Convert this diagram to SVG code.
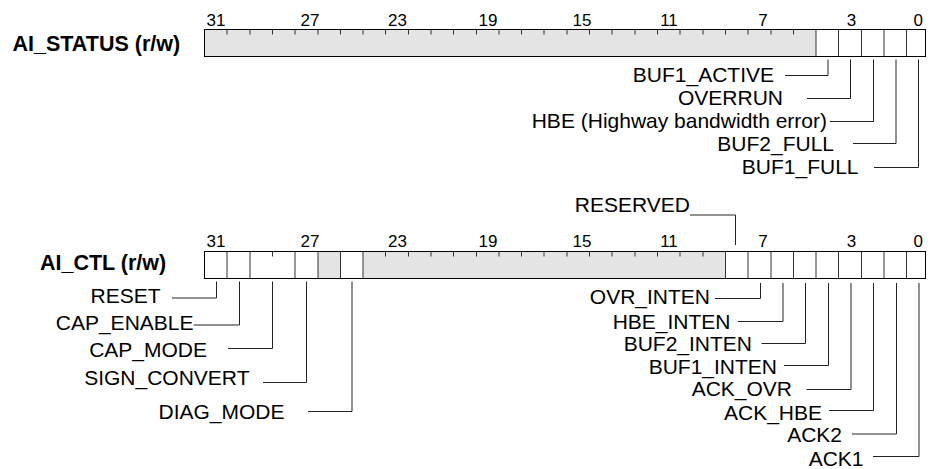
<svg xmlns="http://www.w3.org/2000/svg" width="931" height="469" viewBox="0 0 931 469">
<style>
.lbl{font-family:"Liberation Sans",Arial,sans-serif;font-size:21px;fill:#000}
.ttl{font-family:"Liberation Sans",Arial,sans-serif;font-size:21.5px;font-weight:bold;fill:#000}
.num{font-family:"Liberation Sans",Arial,sans-serif;font-size:17px;fill:#000;text-anchor:middle}
.end{text-anchor:end}
.box{fill:#fff;stroke:#000;stroke-width:1}
.res{fill:#e4e4e4;stroke:none}
.div{stroke:#333;stroke-width:1;fill:none}
.tick{stroke:#333;stroke-width:1;fill:none}
.con{stroke:#222;stroke-width:1;fill:none}
</style>

<g id="ai_status">
  <text class="ttl" x="12.5" y="50.5">AI_STATUS (r/w)</text>
  <rect class="box" x="204.5" y="29.5" width="721" height="27"/>
  <rect class="res" x="205" y="30" width="611" height="26"/>
  <path class="tick" d="M227 29.5V34.5M250 29.5V34.5M272.5 29.5V34.5M295 29.5V34.5M318 29.5V34.5M340.5 29.5V34.5M363 29.5V34.5M385.5 29.5V34.5M408.5 29.5V34.5M431 29.5V34.5M453.5 29.5V34.5M476.5 29.5V34.5M499 29.5V34.5M521.5 29.5V34.5M544 29.5V34.5M567 29.5V34.5M589.5 29.5V34.5M612 29.5V34.5M635 29.5V34.5M657.5 29.5V34.5M680 29.5V34.5M703 29.5V34.5M725.5 29.5V34.5M748 29.5V34.5M771 29.5V34.5M793.5 29.5V34.5"/>
  <path class="div" d="M816 29.5V56.5M838.5 29.5V56.5M861.5 29.5V56.5M884 29.5V56.5M906.5 29.5V56.5"/>
  <g class="num">
    <text x="216" y="25.5">31</text>
    <text x="310" y="25.5">27</text>
    <text x="397.5" y="25.5">23</text>
    <text x="488" y="25.5">19</text>
    <text x="582" y="25.5">15</text>
    <text x="669" y="25.5">11</text>
    <text x="763" y="25.5">7</text>
    <text x="851.5" y="25.5">3</text>
    <text x="918.3" y="25.5">0</text>
  </g>
</g>

<g id="ai_ctl">
  <text class="ttl" x="40" y="270">AI_CTL (r/w)</text>
  <rect class="box" x="204.5" y="251.5" width="721" height="27"/>
  <rect class="res" x="318" y="252" width="22.5" height="26"/>
  <rect class="res" x="363" y="252" width="362.5" height="26"/>
  <path class="tick" d="M272.5 251.5V256.5M385.5 251.5V256.5M408.5 251.5V256.5M431 251.5V256.5M453.5 251.5V256.5M476.5 251.5V256.5M499 251.5V256.5M521.5 251.5V256.5M544 251.5V256.5M567 251.5V256.5M589.5 251.5V256.5M612 251.5V256.5M635 251.5V256.5M657.5 251.5V256.5M680 251.5V256.5M703 251.5V256.5"/>
  <path class="div" d="M227 251.5V278.5M250 251.5V278.5M295 251.5V278.5M318 251.5V278.5M340.5 251.5V278.5M363 251.5V278.5M725.5 251.5V278.5M748 251.5V278.5M771 251.5V278.5M793.5 251.5V278.5M816 251.5V278.5M838.5 251.5V278.5M861.5 251.5V278.5M884 251.5V278.5M906.5 251.5V278.5"/>
  <g class="num">
    <text x="216" y="247">31</text>
    <text x="310" y="247">27</text>
    <text x="397.5" y="247">23</text>
    <text x="488" y="247">19</text>
    <text x="582" y="247">15</text>
    <text x="669" y="247">11</text>
    <text x="763" y="247">7</text>
    <text x="851.5" y="247">3</text>
    <text x="918.3" y="247">0</text>
  </g>
</g>

<g id="f_buf1_active"><text class="lbl end" x="774" y="81.5">BUF1_ACTIVE</text></g>
<g id="f_overrun"><text class="lbl end" x="783" y="104.5">OVERRUN</text></g>
<g id="f_hbe"><text class="lbl end" x="827" y="127.5">HBE (Highway bandwidth error)</text></g>
<g id="f_buf2_full"><text class="lbl end" x="834" y="150.5">BUF2_FULL</text></g>
<g id="f_buf1_full"><text class="lbl end" x="858.5" y="173.5">BUF1_FULL</text></g>

<g id="f_reserved"><text class="lbl end" x="690" y="211.5">RESERVED</text></g>

<g id="f_reset"><text class="lbl end" x="160.5" y="302.5">RESET</text></g>
<g id="f_cap_enable"><text class="lbl end" x="193.5" y="329.5">CAP_ENABLE</text></g>
<g id="f_cap_mode"><text class="lbl end" x="207" y="356.5">CAP_MODE</text></g>
<g id="f_sign_convert"><text class="lbl end" x="249.5" y="385">SIGN_CONVERT</text></g>
<g id="f_diag_mode"><text class="lbl end" x="284.5" y="418.5">DIAG_MODE</text></g>

<g id="f_ovr_inten"><text class="lbl end" x="710" y="303.5">OVR_INTEN</text></g>
<g id="f_hbe_inten"><text class="lbl end" x="730.5" y="328.5">HBE_INTEN</text></g>
<g id="f_buf2_inten"><text class="lbl end" x="752" y="350.5">BUF2_INTEN</text></g>
<g id="f_buf1_inten"><text class="lbl end" x="777" y="374">BUF1_INTEN</text></g>
<g id="f_ack_ovr"><text class="lbl end" x="792" y="396">ACK_OVR</text></g>
<g id="f_ack_hbe"><text class="lbl end" x="822" y="419.5">ACK_HBE</text></g>
<g id="f_ack2"><text class="lbl end" x="842" y="441.5">ACK2</text></g>
<g id="f_ack1"><text class="lbl end" x="863.5" y="466">ACK1</text></g>

<g id="connectors" class="con">
  <path d="M785 75.5H828V59.5"/>
  <path d="M807 98.5H850.5V59.5"/>
  <path d="M830 121.5H873.5V59.5"/>
  <path d="M853 143.5H896V59.5"/>
  <path d="M874 167.5H918.5V59.5"/>

  <path d="M690 215H735.5V245"/>

  <path d="M172 298H216.5V281.5"/>
  <path d="M193.5 325H239.5V281.5"/>
  <path d="M228 348.5H272.5V281.5"/>
  <path d="M263 382.5H306.5V281.5"/>
  <path d="M308 411.5H352V281.5"/>

  <path d="M715 298.5H760.5V283"/>
  <path d="M738 321.5H783V283"/>
  <path d="M761.5 343.5H805.5V283"/>
  <path d="M784 365.5H828.5V283"/>
  <path d="M806.5 389.5H851V283"/>
  <path d="M829 410.5H873.5V283"/>
  <path d="M852 434H896.5V283"/>
  <path d="M873 456.5H919V283"/>
</g>
</svg>
